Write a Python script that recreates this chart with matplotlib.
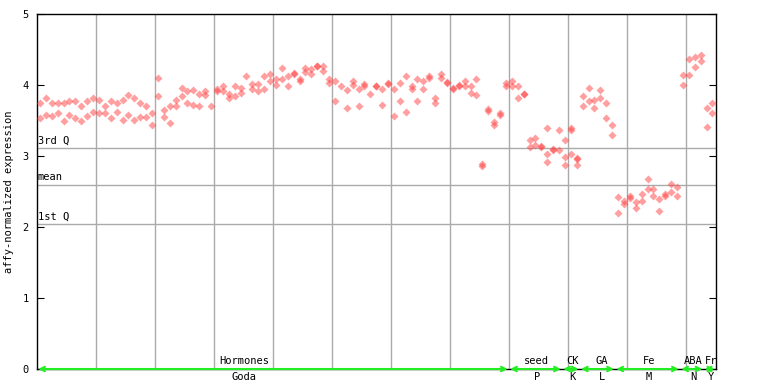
import numpy as np
import matplotlib.pyplot as plt

# experiment groups along the x axis (upper label / lower label)
groups = ["Hormones", "seed", "CK", "GA", "Fe", "ABA", "Fr"]
subgroups = ["Goda", "P", "K", "L", "M", "N", "Y"]
label_pos = [34.6, 84.2, 90.3, 95.3, 103.2, 110.7, 113.7]

# replicate values per sample, one list per group
hormones = [[3.75, 3.53], [3.82, 3.58], [3.75, 3.57], [3.75, 3.61], [3.75, 3.50],
            [3.77, 3.58], [3.77, 3.53], [3.71, 3.50], [3.77, 3.57], [3.82, 3.62],
            [3.79, 3.61], [3.70, 3.61], [3.77, 3.54], [3.75, 3.62], [3.79, 3.51],
            [3.86, 3.58], [3.81, 3.51], [3.74, 3.55], [3.70, 3.55], [3.60, 3.43],
            [4.10, 3.85], [3.65, 3.55], [3.70, 3.46], [3.79, 3.70], [3.96, 3.85],
            [3.92, 3.74], [3.93, 3.72], [3.88, 3.71], [3.92, 3.86], [3.70],
            [3.95, 3.92], [3.98, 3.91], [3.88, 3.82], [3.99, 3.85], [3.96, 3.89],
            [4.13], [4.02, 3.95], [4.02, 3.91], [4.12, 3.95], [4.15, 4.06],
            [4.09, 4.00], [4.24, 4.08], [4.12, 3.99], [4.17, 4.15], [4.09, 4.06],
            [4.24, 4.19], [4.22, 4.15], [4.27, 4.27], [4.27, 4.20], [4.09, 4.03],
            [4.05, 3.77], [3.98], [3.93, 3.67], [4.06, 4.00], [3.95, 3.71],
            [4.02, 3.99], [3.88], [3.99, 3.99], [3.95, 3.72], [4.03, 4.02],
            [3.95, 3.57], [4.03, 3.77], [4.13, 3.62], [3.99, 3.95], [4.09, 3.77],
            [4.06, 3.95], [4.13, 4.10], [3.82, 3.75], [4.16, 4.10], [4.04, 4.03],
            [3.96, 3.95], [4.00, 3.99], [4.06, 3.98], [3.99, 3.89], [4.09, 3.86],
            [2.89, 2.86], [3.66, 3.64], [3.48, 3.43], [3.61, 3.58], [4.03, 3.98]]
seed = [[4.05, 3.99], [3.99, 3.82], [3.88, 3.87], [3.22, 3.13], [3.26, 3.16],
        [3.14, 3.13], [3.39, 3.03, 2.92], [3.10, 3.08], [3.36, 3.09]]
ck = [[3.23, 2.99, 2.88], [3.39, 3.36, 3.03], [2.97, 2.96, 2.88]]
ga = [[3.84, 3.70], [3.96, 3.78], [3.79, 3.68], [3.93, 3.82], [3.74, 3.53], [3.44, 3.30]]
fe = [[2.42, 2.20], [2.37, 2.33], [2.44, 2.41], [2.35, 2.27], [2.46, 2.36], [2.68, 2.53],
      [2.53, 2.43], [2.40, 2.22], [2.47, 2.43], [2.61, 2.49], [2.57, 2.43]]
aba = [[4.14, 4.00], [4.37, 4.14], [4.40, 4.26], [4.42, 4.34]]
fr = [[3.68, 3.41], [3.74, 3.61]]
all_groups = [hormones, seed, ck, ga, fe, aba, fr]

q3 = 3.11
mean = 2.59
q1 = 2.04

mono = 'DejaVu Sans Mono'
fig = plt.figure(figsize=(7.68, 3.84), dpi=100)
ax = fig.add_axes([37/768, 15/384, 679/768, 355/384])

#flatten to x/y points, remember start and end column of each group
xs, ys, spans = [], [], []
col = 0
for g in all_groups:
    start = col
    for reps in g:
        for v in reps:
            xs.append(col)
            ys.append(v)
        col += 1
    spans.append((start, col - 1))
ncol = col

ax.set_xlim(-0.5, ncol - 0.4)
ax.set_ylim(0, 5)

# vertical grid every 10 samples, quartile lines
ax.set_xticks(np.arange(9.5, ncol, 10))
ax.tick_params(axis='x', length=0, labelbottom=False)
ax.grid(axis='x', color='#aaaaaa', lw=1)
for val, name in [(q3, '3rd Q'), (mean, 'mean'), (q1, '1st Q')]:
    ax.axhline(val, color='#aaaaaa', lw=1, zorder=1)
    ax.text(-0.4, val + 0.04, name, fontsize=7.5, family=mono, va='bottom', ha='left')

ax.plot(xs, ys, 'D', ms=3.6, mfc='#ff4040', mec='none', alpha=0.5, zorder=3)

ax.set_yticks(range(6))
ax.tick_params(axis='y', direction='in', length=5, right=True, labelsize=7.5, pad=6)
for lbl in ax.get_yticklabels():
    lbl.set_family(mono)
ax.set_ylabel('affy-normalized expression', fontsize=7.5, family=mono, labelpad=6)

#green arrows for each group and its labels
for (s, e), top, bot, lx in zip(spans, groups, subgroups, label_pos):
    ax.annotate('', xy=(e + 0.3, 0), xytext=(s - 0.3, 0),
                arrowprops=dict(arrowstyle='<->', color='#22ee22', lw=1.5,
                                shrinkA=0, shrinkB=0, mutation_scale=8),
                annotation_clip=False, zorder=5)
    ax.text(lx, 0.04, top, fontsize=7.5, family=mono, ha='center', va='bottom')
    ax.text(lx, -0.04, bot, fontsize=7.5, family=mono, ha='center', va='top', clip_on=False)

for sp in ax.spines.values():
    sp.set_color('black')
    sp.set_linewidth(1)

plt.savefig('out.png', dpi=100)
